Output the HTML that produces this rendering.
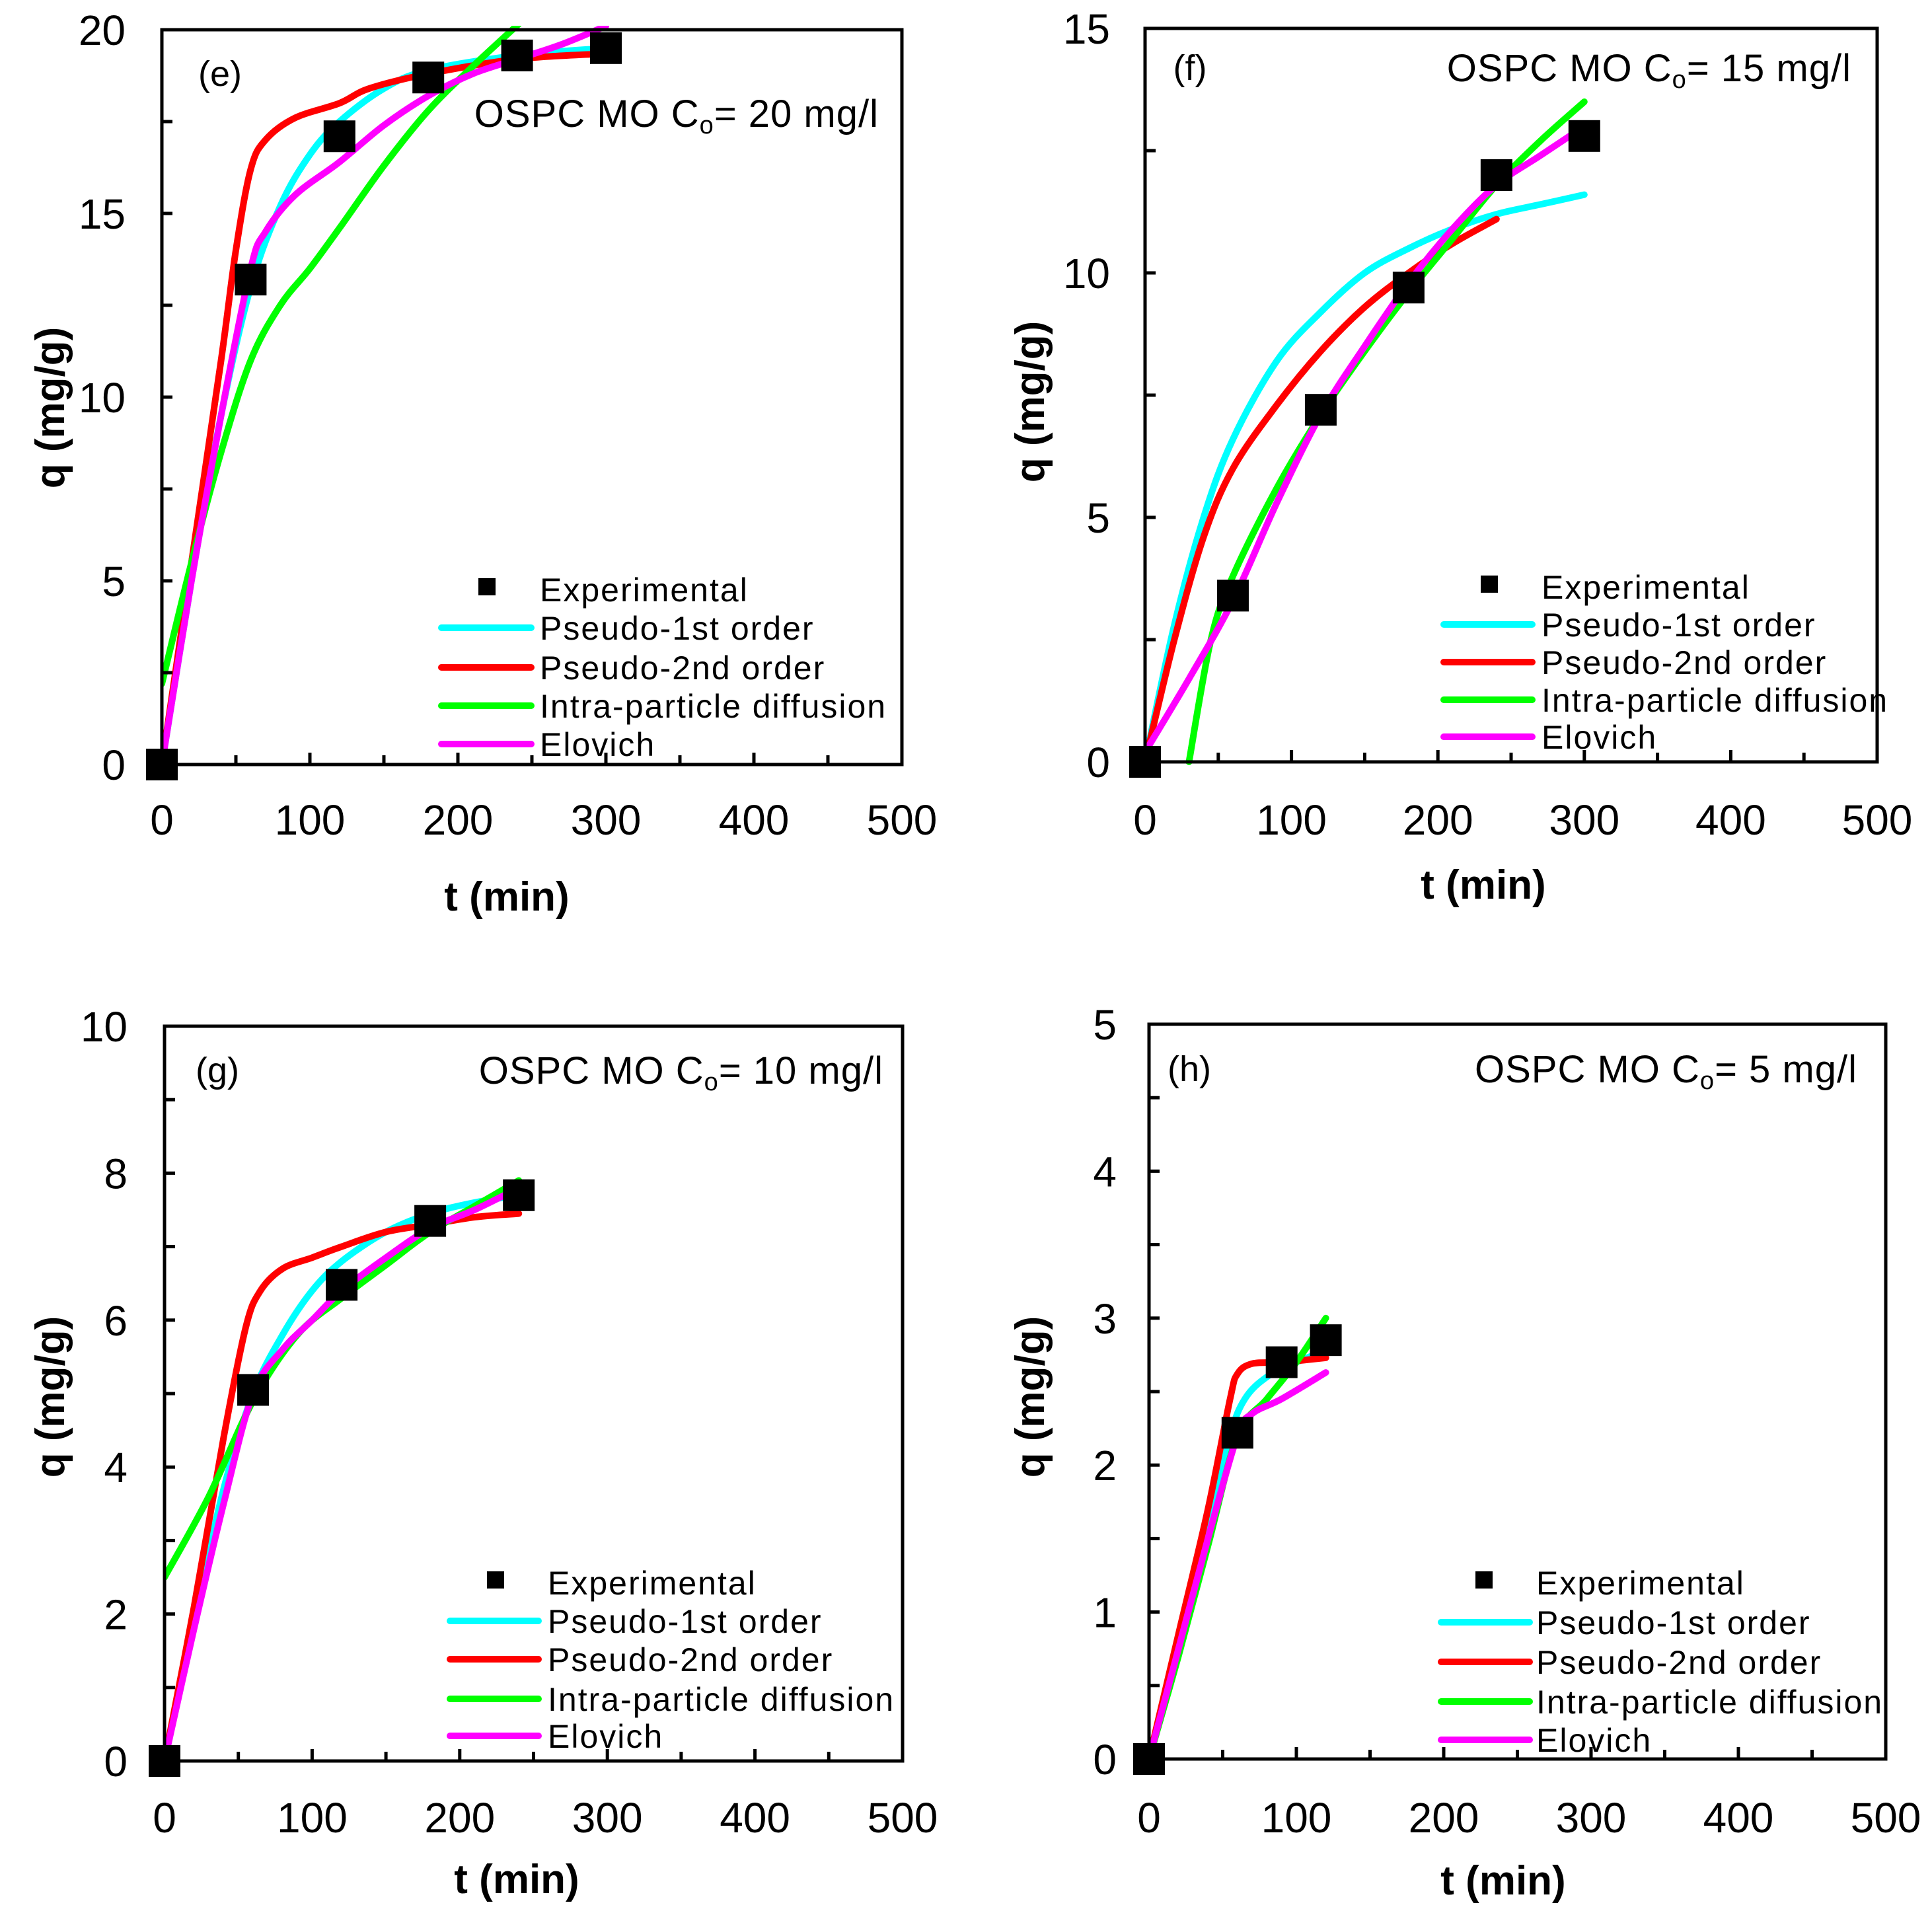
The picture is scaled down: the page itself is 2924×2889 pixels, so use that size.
<!DOCTYPE html>
<html><head><meta charset="utf-8"><style>
html,body{margin:0;padding:0;background:#fff;}
svg{display:block;font-family:"Liberation Sans",Arial,sans-serif;}
</style></head><body>
<svg id="chart" width="2924" height="2889" viewBox="0 0 2924 2889" xmlns="http://www.w3.org/2000/svg"></svg>
<script>
// ---- data arrays ----
const eExpT=[0,60,120,180,240,300];
const eExpQ=[0,13.2,17.1,18.7,19.3,19.5];
const eP1T=[0,20,40,60,80,100,120,150,180,240,300];
const eP1Q=[0,5,9.5,13,15.2,16.6,17.5,18.4,18.9,19.3,19.5];
const eP2T=[0,20,40,50,60,70,90,120,140,180,240,300];
const eP2Q=[0,5.5,11,14,16.2,17,17.6,18.0,18.4,18.8,19.2,19.35];
const eIPT=[0,20,40,60,80,100,120,150,180,210,245];
const eIPQ=[2.2,5.5,8.5,11,12.5,13.5,14.6,16.3,17.8,19,20.3];
const eElT=[0,20,40,60,70,90,120,150,180,210,240,270,300];
const eElQ=[0,5,9.5,13.5,14.5,15.5,16.4,17.4,18.2,18.8,19.2,19.6,20.1];

const fExpT=[0,60,120,180,240,300];
const fExpQ=[0,3.4,7.2,9.7,12.0,12.8];
const fP1T=[0,20,40,60,90,120,150,180,210,240,270,300];
const fP1Q=[0,2.8,5.0,6.6,8.2,9.2,10.0,10.5,10.9,11.2,11.4,11.6];
const fP2T=[0,20,40,60,90,120,150,180,210,240];
const fP2Q=[0,2.5,4.6,6.0,7.3,8.4,9.3,10.0,10.6,11.1];
const fIPT=[30,45,60,90,120,150,180,210,240,270,300];
const fIPQ=[0,2.5,3.8,5.6,7.1,8.4,9.6,10.7,11.8,12.7,13.5];
const fElT=[0,30,60,90,120,150,180,210,240,270,300];
const fElQ=[0.2,1.7,3.3,5.3,7.1,8.5,9.8,10.9,11.8,12.4,13.0];

const gExpT=[0,60,120,180,240];
const gExpQ=[0,5.05,6.48,7.35,7.7];
const gP1T=[0,20,40,60,80,100,120,150,180,210,240];
const gP1Q=[0,1.9,3.7,5.0,5.8,6.4,6.8,7.2,7.45,7.6,7.7];
const gP2T=[0,20,40,55,65,80,100,120,150,180,210,240];
const gP2Q=[0,2.1,4.4,5.9,6.4,6.7,6.85,7.0,7.2,7.3,7.4,7.45];
const gIPT=[0,30,60,90,120,150,180,210,240];
const gIPQ=[2.5,3.6,4.9,5.8,6.3,6.75,7.2,7.55,7.9];
const gElT=[0,20,40,60,80,100,120,150,180,210,240];
const gElQ=[0,1.8,3.5,5.0,5.6,6.0,6.4,6.85,7.25,7.5,7.8];

const hExpT=[0,60,90,120];
const hExpQ=[0,2.22,2.7,2.85];
const hP1T=[0,20,40,55,65,80,100,120];
const hP1Q=[0,0.8,1.6,2.2,2.45,2.6,2.7,2.78];
const hP2T=[0,20,40,55,60,70,90,120];
const hP2Q=[0,0.85,1.7,2.45,2.62,2.69,2.7,2.73];
const hIPT=[0,20,40,60,80,100,120];
const hIPQ=[0,0.7,1.45,2.2,2.45,2.7,3.0];
const hElT=[0,20,40,60,70,90,120];
const hElQ=[0,0.75,1.5,2.2,2.35,2.45,2.63];

const xTicks=[0,100,200,300,400,500];
const eYTicks=[0,5,10,15,20];
const fYTicks=[0,5,10,15];
const gYTicks=[0,2,4,6,8,10];
const hYTicks=[0,1,2,3,4,5];
const legendLabels=["Experimental","Pseudo-1st order","Pseudo-2nd order","Intra-particle diffusion","Elovich"];
const seriesColors=["#00ffff","#ff0000","#00ff00","#ff00ff"];

const NS="http://www.w3.org/2000/svg";
const svg=document.getElementById('chart');
function mk(tag,attrs,parent){const el=document.createElementNS(NS,tag);for(const k in attrs)el.setAttribute(k,attrs[k]);(parent||svg).appendChild(el);return el;}
function smooth(pts){
  let d='M'+pts[0][0].toFixed(1)+','+pts[0][1].toFixed(1);
  for(let i=0;i<pts.length-1;i++){
    const p0=pts[i-1]||pts[i],p1=pts[i],p2=pts[i+1],p3=pts[i+2]||p2;
    const c1=[p1[0]+(p2[0]-p0[0])/6,p1[1]+(p2[1]-p0[1])/6];
    const c2=[p2[0]-(p3[0]-p1[0])/6,p2[1]-(p3[1]-p1[1])/6];
    d+=' C'+c1[0].toFixed(1)+','+c1[1].toFixed(1)+' '+c2[0].toFixed(1)+','+c2[1].toFixed(1)+' '+p2[0].toFixed(1)+','+p2[1].toFixed(1);
  }
  return d;
}

const panels=[
 {id:'e',L:245,R:1365,T:45,B:1157,ymax:20,yt:eYTicks,ymin:2.5,lab:'(e)',ann:'20',
  exp:[eExpT,eExpQ],s:[[eP1T,eP1Q],[eP2T,eP2Q],[eIPT,eIPQ],[eElT,eElQ]],
  leg:{mx:737,l1:668,l2:804,tx:817,rows:[892,950,1010,1068,1126]},
  labPos:[333,112],annPos:[1330,172],ylabR:190,xlabY:1240,xt:[767,1356],yt2:[75,617]},
 {id:'f',L:1733,R:2841,T:43,B:1153,ymax:15,yt:fYTicks,ymin:2.5,lab:'(f)',ann:'15',
  exp:[fExpT,fExpQ],s:[[fP1T,fP1Q],[fP2T,fP2Q],[fIPT,fIPQ],[fElT,fElQ]],
  leg:{mx:2254,l1:2185,l2:2319,tx:2333,rows:[888,945,1002,1059,1115]},
  labPos:[1801,103],annPos:[2802,103],ylabR:1680,xlabY:1240,xt:[2245,1338],yt2:[1558,608]},
 {id:'g',L:249,R:1366,T:1553,B:2665,ymax:10,yt:gYTicks,ymin:1,lab:'(g)',ann:'10',
  exp:[gExpT,gExpQ],s:[[gP1T,gP1Q],[gP2T,gP2Q],[gIPT,gIPQ],[gElT,gElQ]],
  leg:{mx:750,l1:681,l2:815,tx:829,rows:[2395,2453,2511,2571,2627]},
  labPos:[329,1620],annPos:[1337,1620],ylabR:193,xlabY:2750,xt:[782,2843],yt2:[75,2114]},
 {id:'h',L:1739,R:2854,T:1550,B:2662,ymax:5,yt:hYTicks,ymin:0.5,lab:'(h)',ann:'5',
  exp:[hExpT,hExpQ],s:[[hP1T,hP1Q],[hP2T,hP2Q],[hIPT,hIPQ],[hElT,hElQ]],
  leg:{mx:2246,l1:2181,l2:2315,tx:2325,rows:[2395,2455,2515,2575,2633]},
  labPos:[1800,1618],annPos:[2811,1618],ylabR:1690,xlabY:2750,xt:[2275,2845],yt2:[1558,2114]}
];
const seriesNames=['pseudo-1st-order-curve','pseudo-2nd-order-curve','intra-particle-diffusion-curve','elovich-curve'];

panels.forEach(p=>{
  const g=mk('g',{});
  
  
  const xs=v=>p.L+(v/500)*(p.R-p.L);
  const ys=v=>p.B-(v/p.ymax)*(p.B-p.T);
  const cp=mk('clipPath',{id:'clip'+p.id},g);
  mk('rect',{x:p.L,y:p.T-6,width:p.R-p.L,height:p.B-p.T+12},cp);
  p.s.forEach((s,i)=>{
    const pts=s[0].map((t,k)=>[xs(t),ys(s[1][k])]);
    const path=mk('path',{d:smooth(pts),fill:'none',stroke:seriesColors[i],'stroke-width':10,'stroke-linejoin':'round','stroke-linecap':'round','clip-path':'url(#clip'+p.id+')'},g);
    
    
  });
  const fr=mk('rect',{x:p.L,y:p.T,width:p.R-p.L,height:p.B-p.T,fill:'none',stroke:'#000','stroke-width':5},g);
  
  
  for(let v=0;v<=500;v+=50){
    const len=(v%100===0)?18:14;
    mk('line',{x1:xs(v),x2:xs(v),y1:p.B,y2:p.B-len,stroke:'#000','stroke-width':5},g);
  }
  xTicks.forEach(v=>{
    const t=mk('text',{x:xs(v),y:p.xlabY+23,'font-size':64,'text-anchor':'middle'},g);
    t.textContent=v;
    
    
  });
  for(let v=0;v<=p.ymax+1e-9;v+=p.ymin){
    mk('line',{x1:p.L,x2:p.L+16,y1:ys(v),y2:ys(v),stroke:'#000','stroke-width':5},g);
  }
  p.yt.forEach(v=>{
    const t=mk('text',{x:p.ylabR,y:ys(v)+23,'font-size':64,'text-anchor':'end'},g);
    t.textContent=v;
    
    
  });
  p.exp[0].forEach((t,k)=>{
    const r=mk('rect',{x:xs(t)-24,y:ys(p.exp[1][k])-24,width:48,height:48,fill:'#000'},g);
    
    
  });
  const xt=mk('text',{x:p.xt[0],y:p.xt[1]+22,'font-size':62,'font-weight':'bold','text-anchor':'middle'},g);
  xt.textContent='t (min)';
  
  
  const yt=mk('text',{x:0,y:0,'font-size':62,'font-weight':'bold','text-anchor':'middle',transform:'translate('+(p.yt2[0]+22)+','+p.yt2[1]+') rotate(-90)'},g);
  yt.textContent='q (mg/g)';
  
  
  const pl=mk('text',{x:p.labPos[0],y:p.labPos[1]+18,'font-size':54,'text-anchor':'middle'},g);
  pl.textContent=p.lab;
  
  
  const an=mk('text',{x:p.annPos[0],y:p.annPos[1]+20,'font-size':58,'text-anchor':'end','letter-spacing':'1'},g);
  an.innerHTML='OSPC MO C<tspan font-size="38" dy="10">o</tspan><tspan dy="-10">= '+p.ann+' mg/l</tspan>';
  
  
  const lg=mk('g',{},g);
  
  
  legendLabels.forEach((lab,i)=>{
    const y=p.leg.rows[i];
    if(i===0){
      const m=mk('rect',{x:p.leg.mx-13,y:y-17,width:26,height:26,fill:'#000'},lg);
      
      
    } else {
      const l=mk('line',{x1:p.leg.l1,x2:p.leg.l2,y1:y,y2:y,stroke:seriesColors[i-1],'stroke-width':10,'stroke-linecap':'round'},lg);
      
      
    }
    const t=mk('text',{x:p.leg.tx,y:y+18,'font-size':50,'letter-spacing':'2'},lg);
    t.textContent=lab;
    
    
  });
});
</script>
</body></html>
